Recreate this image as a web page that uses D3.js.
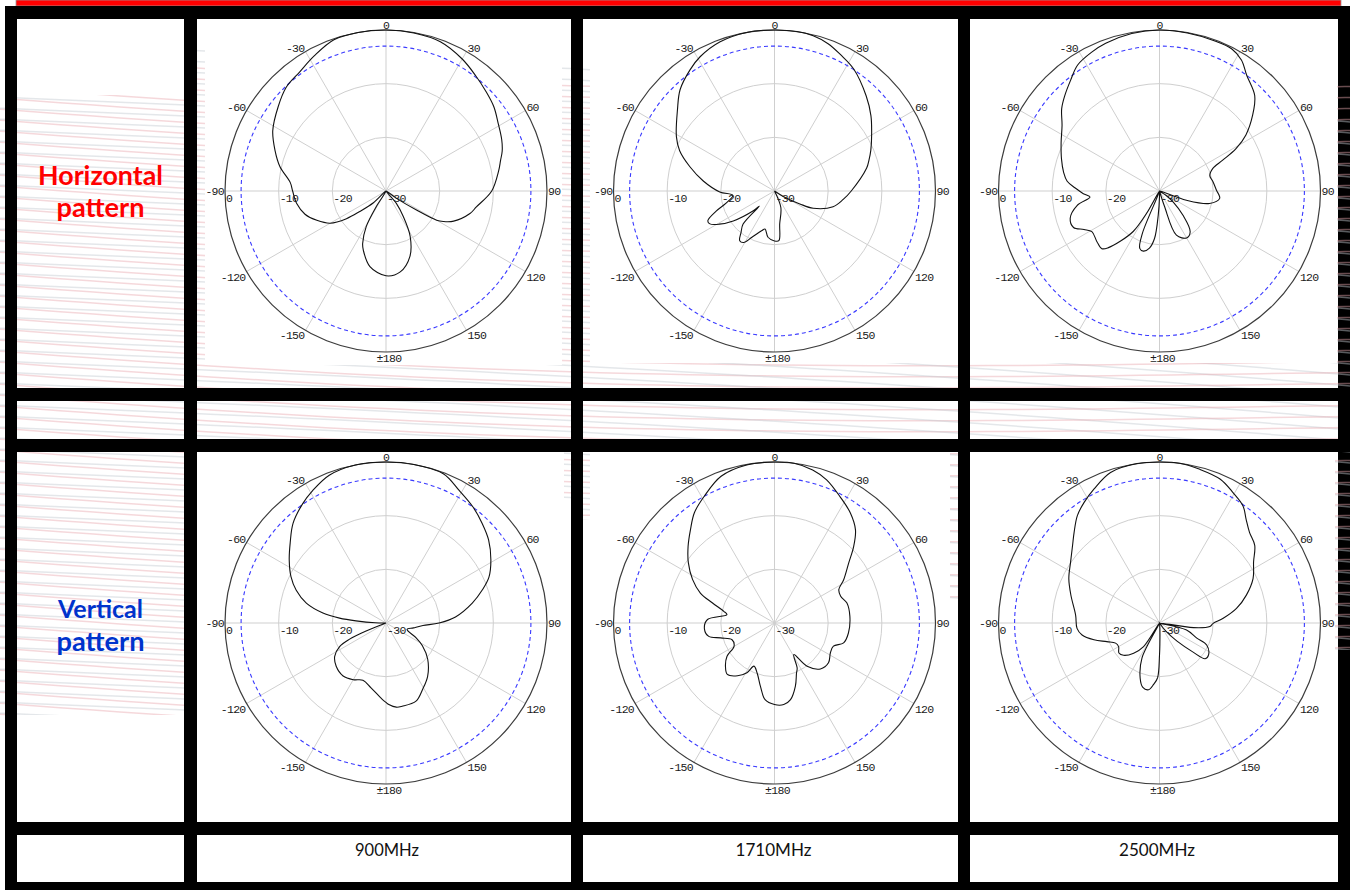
<!DOCTYPE html>
<html><head><meta charset="utf-8">
<script src="https://cdn.jsdelivr.net/npm/d3@7/dist/d3.min.js"></script>
<style>
html,body{margin:0;padding:0;background:#fff;}
svg{display:block;}
</style></head>
<body><svg id="c" width="1350" height="890"></svg>
<script>
// ---------------- data ----------------
const frequencies = ["900MHz", "1710MHz", "2500MHz"];
const rowLabels = [["Horizontal", "pattern"], ["Vertical", "pattern"]];
const angleTicks = [0, 30, 60, 90, 120, 150, 180, -150, -120, -90, -60, -30];
const angleTickLabels = ["0", "30", "60", "90", "120", "150", "\u00b1180", "-150", "-120", "-90", "-60", "-30"];
const radialTicks = [0, -10, -20, -30];
const radialTickLabels = ["0", "-10", "-20", "-30"];
const halfPowerLevel = -3;

// [angle in degrees (0 = boresight, clockwise), relative gain in dB]
const horizontal900 = [[-180,-14.2],[-168,-15.6],[-159,-18.2],[-156,-19.3],[-151,-22.4],[-148,-26.6],[-141,-30],[-133,-26.8],[-128,-23.8],[-125,-21],[-120,-18],[-113,-16],[-106,-14.3],[-98,-13.2],[-90,-12.6],[-85,-12.1],[-77,-9.7],[-70,-8],[-62,-6.1],[-52,-4.5],[-44,-3.2],[-36,-2.6],[-28,-1.5],[-19,-0.2],[-10,0],[0,0],[10,-0.1],[20,-0.4],[30,-1.6],[38,-2.8],[45,-3.7],[52,-4.5],[59,-5.6],[66,-6.4],[71,-7.1],[75,-7.9],[80,-8.7],[90,-10.3],[100,-12.9],[105,-13.8],[114,-16.2],[118,-17.9],[120,-19.1],[122,-23.3],[125,-27.6],[132,-30],[140,-27],[146,-24.2],[152,-20.4],[160,-17],[170,-14.7]];
const horizontal1710 = [[-180,-20.7],[-172,-21.3],[-166,-22.7],[-162,-22.2],[-154,-20.4],[-149,-18.8],[-145,-18.7],[-141,-20.1],[-136.5,-21.5],[-135,-26],[-133,-24.6],[-126,-20.5],[-121,-18],[-117,-16.5],[-114,-16.4],[-109,-18.5],[-104,-20.7],[-96,-22.2],[-91,-19.8],[-82,-16.6],[-74,-13.6],[-67,-10.8],[-61,-9.1],[-50,-6.4],[-43,-4.2],[-35,-2.5],[-29,-1.4],[-20,-0.4],[-10,0],[0,0],[8,0],[14,-0.2],[20,-0.8],[26,-1.8],[33,-2.9],[44,-5.4],[52,-7.2],[60,-9.1],[67,-10.5],[72,-11.5],[76,-12.3],[90,-15.7],[97,-17.1],[105,-18.7],[114,-22.1],[117,-24.7],[122,-28],[130,-30],[150,-30],[159,-26.7],[171,-23.8],[175,-20.7]];
const horizontal2500 = [[-180,-29],[-177,-25.5],[-174,-21.1],[-170,-19.2],[-165,-18.4],[-161,-18.7],[-158,-21.5],[-155,-30],[-150,-25.2],[-147,-21],[-142,-18.1],[-138,-15.8],[-135,-14.8],[-129,-15],[-121,-15.3],[-117,-14.2],[-113,-12.6],[-107,-12.6],[-100,-14.4],[-95,-17],[-92,-15.8],[-88,-14.3],[-84,-12.7],[-79,-11.8],[-72,-10.8],[-64,-9.6],[-56,-8.1],[-50,-6.2],[-45,-5],[-39,-3.6],[-33,-2],[-26,-1.2],[-20,-0.7],[-10,-0.2],[0,0],[10,-0.1],[20,-0.2],[27,-0.3],[32,-1.2],[37,-3],[45,-4.9],[51,-7.7],[57,-10.8],[61,-13.7],[64,-16.9],[67,-19.2],[73,-20.2],[80,-19.9],[89,-19.4],[97,-18.7],[104,-20.4],[109,-24.7],[116,-30],[124,-28.5],[129,-26.7],[136,-23.7],[143,-20.5],[150,-19.9],[159,-21.2],[162,-27],[166,-30],[173,-30]];
const vertical900 = [[-180,-15.2],[-177,-15.8],[-167,-17.6],[-158,-18.5],[-150,-17.8],[-141,-17.3],[-131,-17.7],[-123,-18.6],[-117,-20.3],[-114,-22.5],[-112,-26],[-105,-30],[-95,-30],[-89,-28],[-86,-24.4],[-84,-21.3],[-81,-18.1],[-76,-14.7],[-70,-12.2],[-64,-10.3],[-57,-8.5],[-50,-6.7],[-43,-4.6],[-35,-2.9],[-29,-1.8],[-21,-0.5],[-11,0],[0,0],[10,0],[21,-0.2],[29,-1.8],[37,-3],[44,-4.2],[51,-5.4],[59,-7.2],[66,-9],[71,-11],[77,-13.5],[85,-17],[90,-20.1],[94,-23.1],[100,-24.8],[107,-25.9],[116,-23.8],[122,-22],[131,-19.7],[142,-17.4],[151,-15.9],[159,-14.4],[169,-14.2],[173,-14.2],[178,-14.8]];
const vertical1710 = [[-180,-14.8],[-173,-15.6],[-167.5,-17.9],[-161,-20.1],[-154.5,-21.1],[-151,-19.4],[-145,-18],[-137.5,-17],[-131.5,-17.8],[-125,-19.2],[-120,-21.3],[-111.5,-21.5],[-105.5,-19.6],[-101.5,-17.5],[-95,-16.9],[-87,-17.5],[-80,-21],[-77,-20.3],[-72,-17.8],[-68,-15.1],[-62,-12.7],[-55,-10.4],[-48.5,-8.5],[-42,-6.6],[-36,-4.6],[-29,-3],[-20,-0.9],[-10,-0.1],[0,0],[7,0],[14,-0.6],[20,-1.6],[27.5,-3.5],[34.6,-5.1],[41,-7],[46,-9.5],[51,-12.2],[58,-14.8],[62.6,-16.5],[68,-16.7],[74.6,-16],[85,-15.9],[97.7,-16.1],[106,-16.6],[111.5,-18.2],[118,-18.2],[126.4,-17.5],[135,-17.9],[143,-19.9],[148.6,-23.1],[153.3,-20.6],[156.3,-19.8],[161.7,-17.6],[168.2,-15.4],[173.5,-14.7]];
const vertical2500 = [[-180,-24],[-178,-19.8],[-174.5,-18.5],[-170.7,-17.4],[-165.5,-17.6],[-160.7,-19.1],[-153.4,-22.7],[-150,-30],[-146,-24.7],[-139.4,-22.6],[-132,-21],[-126.5,-20.6],[-120,-21.2],[-114.6,-21],[-109.5,-19.6],[-104.4,-17.4],[-98.8,-15.4],[-93.7,-14.6],[-84.6,-14.3],[-72.6,-12.7],[-64,-11.2],[-55.5,-9.9],[-48.3,-8.3],[-43.3,-6.8],[-37.4,-4.8],[-32,-3.5],[-26,-2.2],[-18,-0.5],[-8,0],[0,0],[7.3,0],[14.7,-0.4],[22.8,-0.9],[29.4,-2.1],[35.5,-3.2],[39.8,-4.8],[44.8,-6.2],[50.8,-7.1],[57,-9.1],[64.6,-10.7],[72.2,-13],[79.3,-15.4],[85.8,-18.1],[90.4,-20],[94,-20.6],[97.8,-23.6],[101,-30],[104.4,-24.8],[112,-22.5],[115,-20.3],[123,-19.1],[128,-19.2],[131,-21.8],[136,-25.3],[142,-28],[150,-30],[170,-30],[176,-29],[179,-26]];

const patterns = [[horizontal900, horizontal1710, horizontal2500], [vertical900, vertical1710, vertical2500]];

// ---------------- layout ----------------
const svg = d3.select("#c");
const colsX = [[17,184],[197,571],[583,958],[970,1338]];
const rowsY = [[19,388],[401,439],[452,822],[835,882]];
const chartCX = [386, 774.5, 1159.5];
const chartCY = [191, 623];
const R = 161;

// red header bar
svg.append("rect").attr("x",16).attr("y",0).attr("width",1325).attr("height",6).attr("fill","#ff0000").attr("stroke","#999").attr("stroke-width",0.8);
// black table frame
svg.append("rect").attr("x",5).attr("y",6).attr("width",1345).attr("height",884).attr("fill","#000");
rowsY.forEach(ry => colsX.forEach(cx => {
  svg.append("rect").attr("x",cx[0]).attr("y",ry[0]).attr("width",cx[1]-cx[0]).attr("height",ry[1]-ry[0]).attr("fill","#fff");
}));

// decorative striped background (visible in label cells, spacer row and chart margins)
const defs = svg.append("defs");
const clip = defs.append("clipPath").attr("id","stripeClip");
const stripeAreas = [
  [0,100,5,720],[17,95,184,388],[197,19,205,388],[197,365,571,388],[562,19,571,388],
  [583,19,590,388],[583,363,958,388],[970,363,1350,388],[1337,19,1350,388],
  [17,401,184,439],[197,401,571,439],[583,401,958,439],[970,401,1338,439],
  [17,452,184,715],[583,452,590,520],[950,452,958,600],[1335,452,1350,650],[564,452,571,500]
];
stripeAreas.forEach(a => clip.append("rect").attr("x",a[0]).attr("y",a[1]).attr("width",a[2]-a[0]).attr("height",a[3]-a[1]));
const stripes = svg.append("g").attr("clip-path","url(#stripeClip)");
const xs = d3.range(0, 1351, 30);
const stripeLine = d3.line().curve(d3.curveBasis);
d3.range(0, 80).forEach(i => {
  const y0 = 40 + i*11;
  stripes.append("path")
    .attr("d", stripeLine(xs.map(x => [x, y0 + 0.035*x + 26*Math.sin((x+300)/520)])))
    .attr("fill","none").attr("stroke","#e9a9b0").attr("stroke-width",1.5).attr("opacity",0.45);
  stripes.append("path")
    .attr("d", stripeLine(xs.map(x => [x, y0 + 5 + 0.07*x - 20*Math.sin((x+100)/700)])))
    .attr("fill","none").attr("stroke","#c3cad1").attr("stroke-width",1.5).attr("opacity",0.45);
});

// chart white boxes
const boxes = [
  [205,19,562,365],[590,19,957,363],[970,19,1337,363],
  [197,452,564,822],[590,452,950,822],[970,452,1335,822]
];
boxes.forEach(b => svg.append("rect").attr("x",b[0]).attr("y",b[1]).attr("width",b[2]-b[0]).attr("height",b[3]-b[1]).attr("fill","#fff"));

// ---------------- polar charts ----------------
const rad = d => d*Math.PI/180;
function drawPolar(data, cx, cy) {
  const r = d3.scaleLinear().domain([-30, 0]).range([0, R]).clamp(true);
  const g = svg.append("g").attr("transform", `translate(${cx},${cy})`);
  r.ticks(3).filter(v => v > -30 && v < 0).forEach(v =>
    g.append("circle").attr("r", r(v)).attr("fill","none").attr("stroke","#cfcfcf").attr("stroke-width",1));
  angleTicks.forEach(a => {
    g.append("line").attr("x1",0).attr("y1",0)
      .attr("x2", R*Math.sin(rad(a))).attr("y2", -R*Math.cos(rad(a)))
      .attr("stroke","#cfcfcf").attr("stroke-width",1);
  });
  g.append("circle").attr("r", r(halfPowerLevel)).attr("fill","none")
    .attr("stroke","#3a3aff").attr("stroke-width",1.1).attr("stroke-dasharray","4,3");
  g.append("circle").attr("r", R).attr("fill","none").attr("stroke","#3c3c3c").attr("stroke-width",1.2);

  const line = d3.lineRadial()
    .angle(d => rad(d[0]))
    .radius(d => r(d[1]))
    .curve(d3.curveCatmullRomClosed.alpha(0.5));
  g.append("path").datum(data).attr("d", line)
    .attr("fill","none").attr("stroke","#111").attr("stroke-width",1.1);

  const fnt = "'Liberation Mono','DejaVu Sans Mono',monospace";
  angleTicks.forEach((a, i) => {
    const px = R*Math.sin(rad(a)), py = -R*Math.cos(rad(a));
    let anchor, x, y;
    if (a === 0) { anchor = "middle"; x = px; y = py - 1; }
    else if (a === 180) { anchor = "middle"; x = px + 3; y = py + 10; }
    else {
      anchor = a > 0 ? "start" : "end";
      x = a > 0 ? px + 1 : px - 1;
      const aa = Math.abs(a);
      y = aa < 90 ? py : (aa === 90 ? py + 4 : py + 9);
    }
    g.append("text").attr("x", x).attr("y", y).attr("text-anchor", anchor)
      .attr("font-family", fnt).attr("font-size", 11.5).attr("letter-spacing", -0.7)
      .attr("fill","#1a1a1a").text(angleTickLabels[i]);
  });
  radialTicks.forEach((v, i) => {
    g.append("text").attr("x", -r(v) + 1).attr("y", 11)
      .attr("font-family", fnt).attr("font-size", 11.5).attr("letter-spacing", -0.7)
      .attr("fill","#1a1a1a").text(radialTickLabels[i]);
  });
}
patterns.forEach((row, ri) => row.forEach((d, ci) => drawPolar(d, chartCX[ci], chartCY[ri])));

// ---------------- text labels ----------------
function fitText(sel, target) {
  const w = sel.node().getComputedTextLength();
  const fs = parseFloat(sel.attr("font-size"));
  sel.attr("font-size", fs * target / w);
}
const rowLabelColors = ["#ff0000", "#0033cc"];
const rowLabelY = [[185, 217], [618, 651]];
const rowLabelW = [[125, 88], [85, 88]];
rowLabels.forEach((lines, ri) => lines.forEach((t, li) => {
  const s = svg.append("text").attr("x", 100.5).attr("y", rowLabelY[ri][li])
    .attr("text-anchor","middle").attr("font-family","Lato, 'Open Sans', sans-serif")
    .attr("font-weight","bold").attr("font-size",24).attr("fill", rowLabelColors[ri]).text(t);
  fitText(s, rowLabelW[ri][li]);
}));
frequencies.forEach((f, i) => {
  const s = svg.append("text").attr("x", (colsX[i+1][0]+colsX[i+1][1])/2 + 3).attr("y", 856)
    .attr("text-anchor","middle").attr("font-family","Lato, 'Open Sans', sans-serif")
    .attr("font-size",17).attr("fill","#111").text(f);
  fitText(s, [64, 76, 76][i]);
});
</script>
</body></html>
